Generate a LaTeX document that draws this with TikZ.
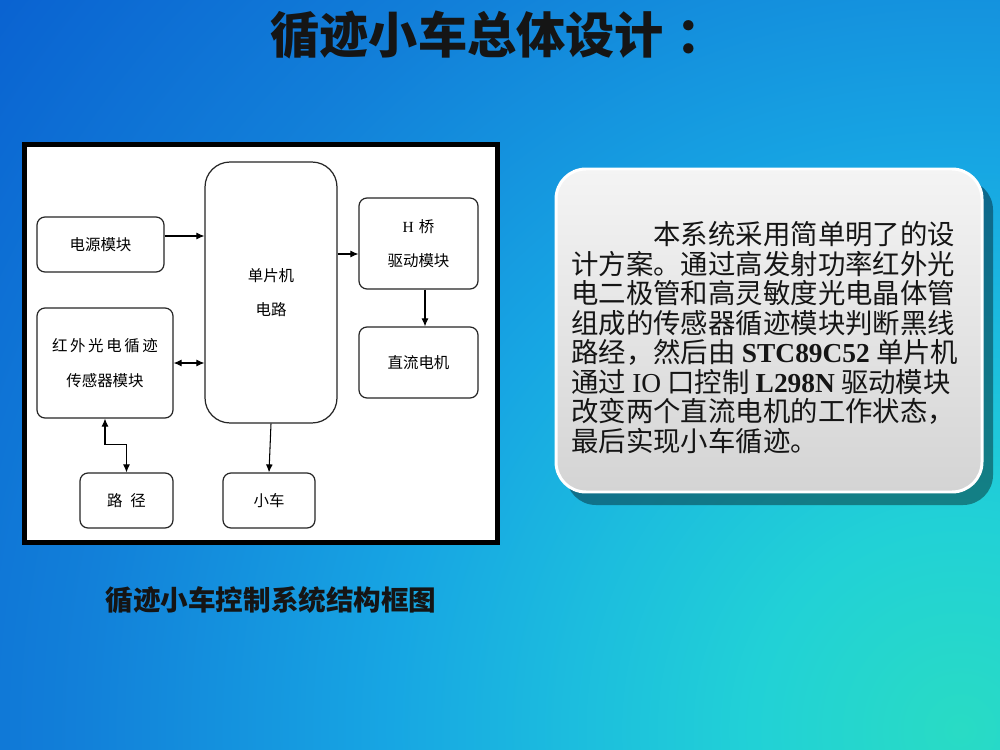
\documentclass[tikz,border=0pt]{standalone}
\usepackage{fontspec}
\newfontfamily\cjk{Noto Sans CJK SC}
\newfontfamily\latinserif{Liberation Serif}
\usetikzlibrary{arrows.meta}

\pgfdeclareradialshading{slideglow}{\pgfpoint{0bp}{0bp}}{rgb(0bp)=(0.16,0.86,0.77); rgb(4bp)=(0.13,0.82,0.84); rgb(7.5bp)=(0.11,0.74,0.87); rgb(11bp)=(0.09,0.65,0.89); rgb(17bp)=(0.07,0.50,0.85); rgb(23bp)=(0.04,0.39,0.82); rgb(25bp)=(0.04,0.38,0.82); rgb(50bp)=(0.04,0.38,0.82)}
\definecolor{panelhi}{HTML}{F4F4F4}
\definecolor{panello}{HTML}{D4D4D4}
\definecolor{inkdark}{HTML}{151515}

\tikzset{
  blockbox/.style={draw=black!85, line width=0.7pt, fill=white, rounded corners=0.16cm,
    inner sep=0pt, align=center, font=\cjk\fontsize{8.8}{19.5}\selectfont},
  arr/.style={-{Latex[length=1.6mm,width=1.4mm]}, line width=0.6pt},
  darr/.style={{Latex[length=1.6mm,width=1.4mm]}-{Latex[length=1.6mm,width=1.4mm]}, line width=0.6pt}
}

\begin{document}
\begin{tikzpicture}[x=0.02cm, y=-0.02cm]
         \useasboundingbox (0,0) rectangle (1000,750);
         \begin{scope}
            \clip (0,0) rectangle (1000,750);
            \shade[shading=slideglow] (960,730) circle (1300);
         \end{scope}

         \node[font=\cjk\bfseries\fontsize{28}{30}\selectfont, text=inkdark] (title) at (498,35) {循迹小车总体设计\hspace{0.25em}：};

         \draw[line width=2.8pt, fill=white] (24.5,144.5) rectangle (497.5,542.5);

         \node[blockbox, minimum width=2.54cm, minimum height=1.10cm] (power) at (100.5,244.5) {电源模块};
         \node[blockbox, rounded corners=0.5cm, minimum width=2.64cm, minimum height=5.22cm] (mcu) at (271,292.5) {单片机\\电路};
         \node[blockbox, minimum width=2.38cm, minimum height=1.82cm] (hbridge) at (418.5,243.5) {{\latinserif H}\hspace{3pt}桥\\驱动模块};
         \node[blockbox, minimum width=2.38cm, minimum height=1.42cm] (motor) at (418.5,362.5) {直流电机};
         \node[blockbox, minimum width=2.72cm, minimum height=2.2cm] (sensor) at (105,363) {红\,外\,光\,电\,循\,迹\\传感器模块};
         \node[blockbox, minimum width=1.86cm, minimum height=1.10cm] (path) at (126.5,500.5) {路\hspace{4.5pt}径};
         \node[blockbox, minimum width=1.84cm, minimum height=1.10cm] (car) at (269,500.5) {小车};

         \pgfmathsetmacro{\yPwr}{236}
         \pgfmathsetmacro{\yMcu}{254}
         \pgfmathsetmacro{\xHb}{425}

         \coordinate (pwrout) at (power.east |- 0,\yPwr);
         \coordinate (mcuout) at (mcu.east |- 0,\yMcu);
         \coordinate (hbout) at (hbridge.south -| \xHb,0);

         \draw[arr] (pwrout) -- (pwrout -| mcu.west);
         \draw[arr] (mcuout) -- (mcuout -| hbridge.west);
         \draw[arr] (hbout) -- (hbout |- motor.north);
         \draw[darr] (sensor.east) -- (sensor.east -| mcu.west);
         \draw[darr] (sensor.south) -- ++(0,26) -| (path.north);
         \draw[arr] (mcu.south) -- (car.north);

         \node[font=\cjk\bfseries\fontsize{15.7}{18}\selectfont, text=inkdark] (caption) at (271,600) {循迹小车控制系统结构框图};

         \fill[black, opacity=0.38, rounded corners=0.6cm] (566,180) rectangle (993,505);
         \draw[white, line width=1.7pt, top color=panelhi, bottom color=panello, rounded corners=0.6cm] (556,169) rectangle (982,492);

         \node[anchor=north west, inner sep=0pt, align=left, text=inkdark, font=\cjk\fontsize{15.6}{16.8}\selectfont] (note) at (571,221)
            {\hspace{3em}本系统采用简单明了的设\\
             计方案。通过高发射功率红外光\\
             电二极管和高灵敏度光电晶体管\\
             组成的传感器循迹模块判断黑线\\
             路经，然后由 {\latinserif\bfseries STC89C52} 单片机\\
             通过 {\latinserif IO} 口控制 {\latinserif\bfseries L298N} 驱动模块\\
             改变两个直流电机的工作状态，\\
             最后实现小车循迹。};
      \end{tikzpicture}
\end{document}
